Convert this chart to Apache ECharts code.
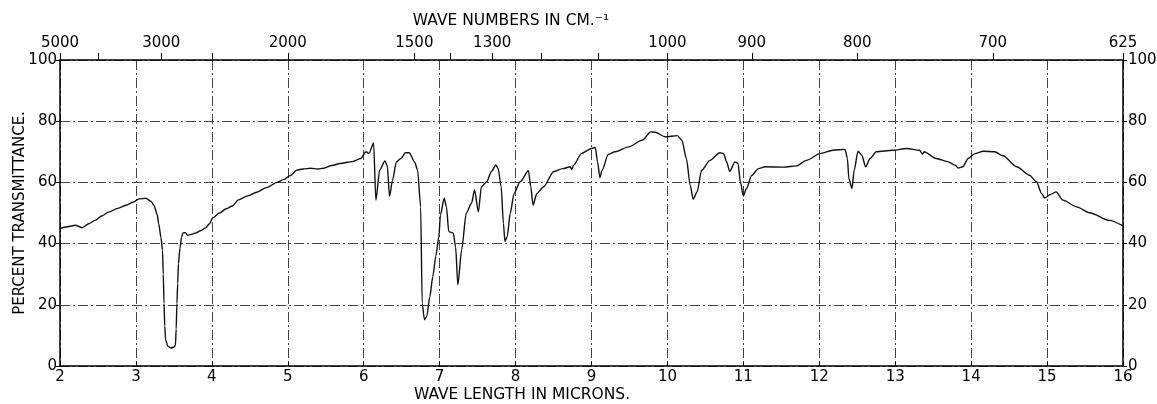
<!DOCTYPE html>
<html>
<head>
<meta charset="utf-8">
<script src="https://cdn.jsdelivr.net/npm/echarts@6/dist/echarts.min.js"></script>
<style>
html,body{margin:0;padding:0;background:#fff;}
#chart{width:1157px;height:404px;}
</style>
</head>
<body>
<div id="chart"></div>
<script>
// Wavelength in microns
const wavelength = [
2.00,2.10,2.20,2.29,2.38,2.46,2.55,2.64,2.76,2.88,2.96,3.04,3.13,3.20,3.24,3.28,3.30,3.33,3.35,3.36,3.37,3.38,3.39,3.42,3.46,3.50,3.52,3.53,3.54,3.55,3.56,3.58,3.60,3.62,3.65,3.68,3.73,3.79,3.85,3.92,3.97,4.01,4.10,4.19,4.27,4.35,4.47,4.59,4.72,4.86,4.95,5.03,5.12,5.20,5.30,5.40,5.47,5.58,5.69,5.85,5.96,
6.03,6.07,6.13,6.16,6.21,6.28,6.31,6.34,6.38,6.43,6.49,6.55,6.60,6.67,6.71,6.75,6.77,6.80,6.83,6.87,6.91,6.95,6.99,7.01,7.06,7.09,7.12,7.18,7.21,7.24,7.29,7.35,7.42,7.46,7.51,7.55,7.62,7.68,7.74,7.77,7.81,7.84,7.86,7.89,7.93,7.98,8.06,8.17,8.20,8.23,8.28,8.37,8.50,8.62,8.72,8.74,8.76,8.87,9.00,9.05,9.08,9.11,9.14,9.22,9.31,9.49,9.67,9.78,9.84,9.97,10.13,10.19,
10.25,10.30,10.34,10.39,10.45,10.56,10.69,10.74,10.78,10.82,10.89,10.93,10.96,11.00,11.04,11.11,11.20,11.29,11.53,11.70,11.83,12.01,12.18,12.34,12.37,12.39,12.43,12.46,12.51,12.56,12.61,12.67,12.75,12.97,13.15,13.32,13.36,13.38,13.54,13.70,13.79,13.83,13.89,13.96,14.05,14.16,14.31,14.42,14.60,14.77,14.86,14.93,14.97,15.04,15.12,15.21,15.39,15.56,15.82,16.00
];
// Percent transmittance
const transmittance = [
44.9,45.5,46.0,45.2,46.5,47.6,49.0,50.3,51.5,52.6,53.5,54.6,54.8,53.8,52.4,49.5,46.5,42.0,37.8,30.0,20.5,13.0,8.6,6.5,5.9,6.2,6.7,12.0,20.5,27.0,33.5,38.5,42.0,43.5,43.6,42.7,43.0,43.5,44.2,45.2,46.5,48.4,50.0,51.4,52.3,54.3,55.6,56.8,58.3,60.0,61.0,62.2,64.0,64.4,64.6,64.4,64.6,65.5,66.2,66.8,67.8,
70.0,69.5,72.9,54.2,64.0,67.0,65.5,55.5,60.8,66.7,67.8,69.7,69.7,66.7,64.0,52.0,20.5,15.1,16.2,22.5,29.2,36.0,42.3,49.3,54.8,52.0,43.9,43.4,39.0,26.5,38.0,49.9,53.2,57.5,50.4,58.6,60.2,63.5,65.7,64.6,58.6,46.6,40.7,42.3,49.9,56.4,60.2,63.8,58.6,52.6,56.4,58.6,63.5,64.5,65.1,64.2,65.5,69.5,71.1,71.4,66.7,61.6,64.0,69.1,70.0,71.6,73.8,76.5,76.4,74.9,75.3,73.8,
67.8,59.0,54.5,56.9,64.0,67.2,69.7,69.4,66.7,63.6,66.7,66.2,60.2,55.6,58.0,62.3,64.5,65.1,65.0,65.4,67.2,69.4,70.5,70.8,67.8,61.2,58.0,64.0,70.2,68.9,65.1,67.8,70.0,70.5,71.1,70.5,69.2,70.0,67.8,66.7,65.6,64.7,65.1,67.8,69.4,70.2,70.0,68.7,65.1,62.3,60.2,56.3,54.9,56.0,56.9,54.2,52.0,50.1,47.6,45.8
];
// Bottom axis ticks (microns)
const micronTicks = [2,3,4,5,6,7,8,9,10,11,12,13,14,15,16];
// Top axis: wave numbers in cm^-1 (labelled) and unlabelled minor tick wave numbers
const waveNumberLabels = [5000,3000,2000,1500,1300,1000,900,800,700,625];
const waveNumberMinor = [4000,2500,1400,1200,1100];
// Percent ticks
const percentTicks = [0,20,40,60,80,100];

const data = wavelength.map((w,i)=>[w, transmittance[i]]);
const topLabelPos = waveNumberLabels.map(n => 10000/n);
const topTickPos = waveNumberLabels.concat(waveNumberMinor).map(n => 10000/n);

const chart = echarts.init(document.getElementById('chart'), null, {renderer:'canvas'});
const font = 'DejaVu Sans';
const gridDash = {color:'#444', width:1, type:[10,3,2,3]};

chart.setOption({
  animation:false,
  backgroundColor:'#fff',
  grid:{left:60, right:34, top:60, bottom:38, containLabel:false, outerBoundsMode:'none'},
  xAxis:[{
    type:'value', position:'bottom', min:2, max:16, interval:1,
    axisLine:{show:true, onZero:false, lineStyle:{color:'#000', width:1.5}},
    axisTick:{show:true, inside:true, length:4, lineStyle:{color:'#000'}},
    axisLabel:{color:'#000', fontFamily:font, fontSize:15, margin:4,
      customValues: micronTicks},
    splitLine:{show:true, lineStyle:gridDash}
  },{
    type:'value', position:'top', min:2, max:16,
    axisLine:{show:true, onZero:false, lineStyle:{color:'#000', width:1.5}},
    axisTick:{show:true, length:7, customValues: topTickPos, lineStyle:{color:'#000'}},
    axisLabel:{color:'#000', fontFamily:font, fontSize:15, margin:9,
      customValues: topLabelPos,
      formatter: v => String(Math.round(10000/v))},
    splitLine:{show:false}
  }],
  yAxis:[{
    type:'value', position:'left', min:0, max:100, interval:20,
    name:'PERCENT TRANSMITTANCE.', nameLocation:'middle', nameGap:32, nameMoveOverlap:false,
    nameTextStyle:{color:'#000', fontFamily:font, fontSize:15},
    axisLine:{show:true, onZero:false, lineStyle:{color:'#000', width:1.5}},
    axisTick:{show:true, length:4, lineStyle:{color:'#000'}},
    axisLabel:{color:'#000', fontFamily:font, fontSize:15, margin:3,
      customValues: percentTicks},
    splitLine:{show:true, lineStyle:gridDash}
  },{
    type:'value', position:'right', min:0, max:100, interval:20,
    axisLine:{show:true, onZero:false, lineStyle:{color:'#000', width:1.5}},
    axisTick:{show:true, length:4, lineStyle:{color:'#000'}},
    axisLabel:{color:'#000', fontFamily:font, fontSize:15, margin:5,
      customValues: percentTicks},
    splitLine:{show:false}
  }],
  graphic:[
    {type:'text', x:511, y:21, style:{text:'WAVE NUMBERS IN CM.⁻¹', fill:'#000', font:'15.5px "DejaVu Sans"', textAlign:'center', textVerticalAlign:'middle'}},
    {type:'text', x:522, y:395, style:{text:'WAVE LENGTH IN MICRONS.', fill:'#000', font:'15.5px "DejaVu Sans"', textAlign:'center', textVerticalAlign:'middle'}}
  ],
  series:[{
    type:'line', xAxisIndex:0, yAxisIndex:0, data:data,
    showSymbol:false, symbol:'none', smooth:0.25, smoothMonotone:'x',
    lineStyle:{color:'#111', width:1.4}
  }]
});
</script>
</body>
</html>
